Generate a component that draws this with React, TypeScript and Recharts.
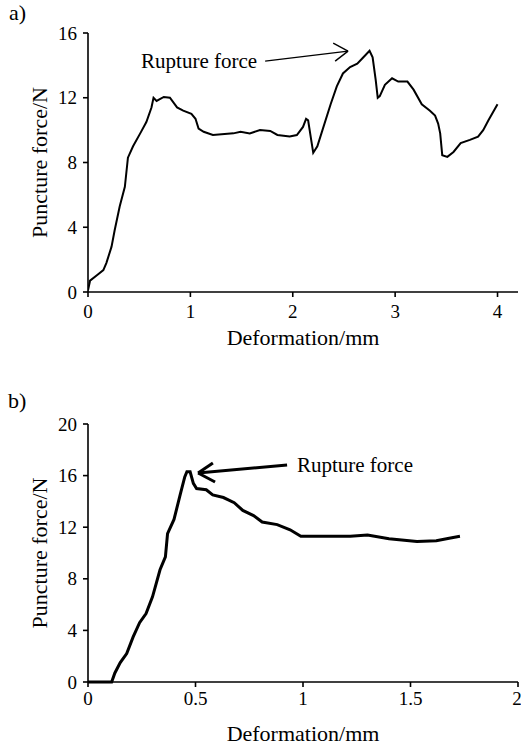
import React from "react";
import {
  LineChart,
  Line,
  XAxis,
  YAxis,
  ReferenceLine,
  ReferenceDot,
} from "recharts";

// panel a) — deformation (mm) vs puncture force (N)
const aDeform = [
  0, 0.02, 0.09, 0.15, 0.18, 0.23, 0.26, 0.31, 0.36, 0.39, 0.44, 0.51, 0.57,
  0.62, 0.64, 0.67, 0.74, 0.8, 0.87, 0.93, 1.01, 1.05, 1.08, 1.13, 1.22, 1.42,
  1.49, 1.58, 1.68, 1.78, 1.85, 1.97, 2.04, 2.1, 2.13, 2.15, 2.18, 2.2, 2.24,
  2.29, 2.37, 2.43, 2.49, 2.56, 2.63, 2.69, 2.75, 2.78, 2.81, 2.83, 2.85, 2.9,
  2.97, 3.03, 3.12, 3.18, 3.26, 3.34, 3.39, 3.42, 3.44, 3.46, 3.51, 3.57, 3.64,
  3.73, 3.81, 3.86, 3.91, 4.0,
];
const aForce = [
  0.1, 0.7, 1.05, 1.35, 1.8, 2.8, 3.8, 5.3, 6.5, 8.3, 9.0, 9.8, 10.5, 11.4,
  12.0, 11.8, 12.05, 12.0, 11.4, 11.2, 11.0, 10.7, 10.1, 9.9, 9.7, 9.8, 9.9,
  9.8, 10.0, 9.95, 9.7, 9.6, 9.7, 10.2, 10.7, 10.6, 9.4, 8.6, 9.0, 10.0, 11.6,
  12.7, 13.5, 13.9, 14.1, 14.5, 14.9, 14.5, 13.1, 12.0, 12.1, 12.8, 13.2, 13.0,
  13.0, 12.5, 11.6, 11.2, 10.9, 10.4, 9.8, 8.45, 8.35, 8.65, 9.2, 9.4, 9.6,
  10.0, 10.6, 11.6,
];
const aXTicks = [0, 1, 2, 3, 4];
const aYTicks = [0, 4, 8, 12, 16];

// panel b)
const bDeform = [
  0, 0.11, 0.125, 0.15, 0.18, 0.21, 0.24, 0.27, 0.3, 0.335, 0.36, 0.37, 0.4,
  0.43, 0.45, 0.46, 0.475, 0.49, 0.505, 0.55, 0.58, 0.63, 0.68, 0.72, 0.77,
  0.81, 0.88, 0.94, 0.99, 1.06, 1.22, 1.3, 1.4, 1.53, 1.62, 1.68, 1.73,
];
const bForce = [
  0, 0, 0.7, 1.5, 2.2, 3.5, 4.6, 5.3, 6.6, 8.7, 9.7, 11.5, 12.6, 14.6, 15.9,
  16.3, 16.3, 15.4, 15.0, 14.9, 14.5, 14.3, 13.9, 13.3, 12.9, 12.4, 12.2, 11.8,
  11.3, 11.3, 11.3, 11.4, 11.1, 10.9, 10.95, 11.15, 11.3,
];
const bXTicks = [0, 0.5, 1, 1.5, 2];
const bYTicks = [0, 4, 8, 12, 16, 20];

const aData = aDeform.map((x, i) => ({ x, y: aForce[i] }));
const bData = bDeform.map((x, i) => ({ x, y: bForce[i] }));

const FONT = "'Liberation Serif', 'Times New Roman', serif";
const TICK_FS = 19;
const TITLE_FS = 22;
const NOTE_FS = 21;
const axisLine = { stroke: "#000", strokeWidth: 1.6 };
const tickLine = { stroke: "#000", strokeWidth: 1.6 };

type TickProps = { x?: number; y?: number; payload?: { value: number } };

const makeXTick = (dy: number) => (p: TickProps) =>
  (
    <text
      x={p.x}
      y={(p.y ?? 0) + dy}
      textAnchor="middle"
      fontSize={TICK_FS}
      fontFamily={FONT}
      fill="#000"
    >
      {p.payload?.value}
    </text>
  );

const YTick = (p: TickProps) => (
  <text
    x={p.x}
    y={(p.y ?? 0) + 6.5}
    textAnchor="end"
    fontSize={TICK_FS}
    fontFamily={FONT}
    fill="#000"
  >
    {p.payload?.value}
  </text>
);

const textShape =
  (label: string, anchor: "start" | "end") =>
  (p: { cx?: number; cy?: number }) =>
    (
      <text
        x={p.cx}
        y={p.cy}
        textAnchor={anchor}
        fontSize={NOTE_FS}
        fontFamily={FONT}
        fill="#000"
      >
        {label}
      </text>
    );

function Panel({
  data,
  xTicks,
  yTicks,
  xMax,
  yMax,
  top,
  height,
  marginTop,
  xAxisHeight,
  xTickDy,
  strokeWidth,
  children,
}: {
  data: { x: number; y: number }[];
  xTicks: number[];
  yTicks: number[];
  xMax: number;
  yMax: number;
  top: number;
  height: number;
  marginTop: number;
  xAxisHeight: number;
  xTickDy: number;
  strokeWidth: number;
  children?: React.ReactNode;
}) {
  const XTick = makeXTick(xTickDy);
  return (
    <div style={{ position: "absolute", left: 0, top }}>
      <LineChart
        width={521}
        height={height}
        data={data}
        margin={{ top: marginTop, right: 3, left: 0, bottom: 0 }}
      >
        <XAxis
          dataKey="x"
          type="number"
          domain={[0, xMax]}
          ticks={xTicks}
          allowDataOverflow
          height={xAxisHeight}
          tick={<XTick />}
          tickSize={5}
          tickMargin={2}
          axisLine={axisLine}
          tickLine={tickLine}
          label={{
            value: "Deformation/mm",
            position: "insideBottom",
            offset: 5,
            fill: "#000",
            fontSize: TITLE_FS,
            fontFamily: FONT,
          }}
        />
        <YAxis
          dataKey="y"
          type="number"
          domain={[0, yMax]}
          ticks={yTicks}
          width={88}
          tick={<YTick />}
          tickSize={5}
          tickMargin={6}
          axisLine={axisLine}
          tickLine={tickLine}
          label={{
            value: "Puncture force/N",
            angle: -90,
            position: "center",
            dx: -5,
            fill: "#000",
            fontSize: TITLE_FS,
            fontFamily: FONT,
          }}
        />
        <Line
          type="linear"
          dataKey="y"
          stroke="#000"
          strokeWidth={strokeWidth}
          dot={false}
          isAnimationActive={false}
        />
        {children}
      </LineChart>
    </div>
  );
}

export default function App() {
  return (
    <div
      style={{
        position: "absolute",
        left: 0,
        top: 0,
        width: 521,
        height: 746,
        background: "#fff",
        fontFamily: FONT,
      }}
    >
      <div style={{ position: "absolute", left: 9, top: 2, fontSize: 22, lineHeight: "22px" }}>a)</div>
      <div style={{ position: "absolute", left: 8, top: 390, fontSize: 22, lineHeight: "22px" }}>b)</div>

      <Panel
        data={aData}
        xTicks={aXTicks}
        yTicks={aYTicks}
        xMax={4.2}
        yMax={16}
        top={0}
        height={350}
        marginTop={33}
        xAxisHeight={58}
        xTickDy={19}
        strokeWidth={2}
      >
        <ReferenceLine
          segment={[
            { x: 1.73, y: 14.26 },
            { x: 2.54, y: 14.88 },
          ]}
          stroke="#000"
          strokeWidth={1.4}
          ifOverflow="visible"
        />
        <ReferenceLine
          segment={[
            { x: 2.395, y: 15.37 },
            { x: 2.54, y: 14.88 },
          ]}
          stroke="#000"
          strokeWidth={1.4}
          ifOverflow="visible"
        />
        <ReferenceLine
          segment={[
            { x: 2.414, y: 14.26 },
            { x: 2.54, y: 14.88 },
          ]}
          stroke="#000"
          strokeWidth={1.4}
          ifOverflow="visible"
        />
        <ReferenceDot
          x={1.652}
          y={13.83}
          r={0}
          ifOverflow="visible"
          shape={textShape("Rupture force", "end")}
        />
      </Panel>

      <Panel
        data={bData}
        xTicks={bXTicks}
        yTicks={bYTicks}
        xMax={2}
        yMax={20}
        top={370}
        height={376}
        marginTop={54}
        xAxisHeight={64}
        xTickDy={16}
        strokeWidth={3}
      >
        <ReferenceLine
          segment={[
            { x: 0.926, y: 16.82 },
            { x: 0.512, y: 16.2 },
          ]}
          stroke="#000"
          strokeWidth={3}
          ifOverflow="visible"
        />
        <ReferenceLine
          segment={[
            { x: 0.581, y: 16.98 },
            { x: 0.512, y: 16.2 },
          ]}
          stroke="#000"
          strokeWidth={3}
          ifOverflow="visible"
        />
        <ReferenceLine
          segment={[
            { x: 0.591, y: 15.5 },
            { x: 0.512, y: 16.2 },
          ]}
          stroke="#000"
          strokeWidth={3}
          ifOverflow="visible"
        />
        <ReferenceDot
          x={0.972}
          y={16.28}
          r={0}
          ifOverflow="visible"
          shape={textShape("Rupture force", "start")}
        />
      </Panel>
    </div>
  );
}
